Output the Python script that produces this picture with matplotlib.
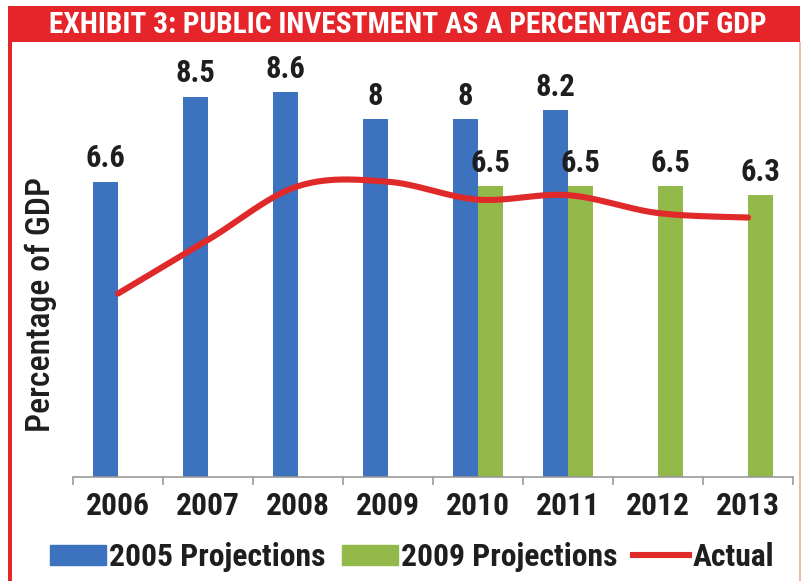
import os
import numpy as np
import matplotlib
matplotlib.use('Agg')
import matplotlib.pyplot as plt
from matplotlib import font_manager as fm
from matplotlib.patches import Rectangle
from matplotlib.lines import Line2D

years = ['2006', '2007', '2008', '2009', '2010', '2011', '2012', '2013']
proj_2005 = [6.6, 8.5, 8.6, 8.0, 8.0, 8.2, np.nan, np.nan]
proj_2009 = [np.nan, np.nan, np.nan, np.nan, 6.5, 6.5, 6.5, 6.3]
actual = [4.1, 5.3, 6.5, 6.6, 6.2, 6.3, 5.9, 5.8]
series_names = ['2005 Projections', '2009 Projections', 'Actual']

BLUE = '#3d72bf'
GREEN = '#94b94b'
RED = '#e02a2a'
TXT = '#1e1e1e'


def find_condensed(style):
    found = {}
    for f in fm.fontManager.ttflist:
        b = os.path.basename(f.fname).lower()
        if not ('condensed' in b or 'narrow' in b):
            continue
        if any(k in b for k in ('italic', 'oblique', 'semi', 'extra', 'ultra', 'light', 'thin', 'black')):
            continue
        if style == 'bold' and 'bold' in b:
            found[b] = f.fname
        if style == 'medium' and 'medium' in b:
            found[b] = f.fname
        if style == 'regular' and 'bold' not in b and 'medium' not in b:
            found[b] = f.fname
    for key in ('robotocondensed', 'roboto_condensed', 'liberationsansnarrow', 'notosans',
                'opensans', 'dejavusanscondensed', ''):
        for b, p in sorted(found.items()):
            if key in b:
                return p
    return None


path_bold = find_condensed('bold')
path_mid = find_condensed('medium') or find_condensed('regular') or path_bold


def fp(size, p=None):
    p = p or path_bold
    if p:
        return fm.FontProperties(fname=p, size=size)
    return fm.FontProperties(family='DejaVu Sans', weight='bold', stretch='condensed', size=size)


def smooth(x, y, n=30):
    # excel-like smoothed line (bezier through the points)
    x = np.asarray(x, float)
    y = np.asarray(y, float)
    px = np.concatenate([[x[0]], x, [x[-1]]])
    py = np.concatenate([[y[0]], y, [y[-1]]])
    xs, ys = [], []
    t = np.linspace(0, 1, n)
    for i in range(1, len(px) - 2):
        p0, p1, p2, p3 = (np.array([px[j], py[j]]) for j in (i - 1, i, i + 1, i + 2))
        c1 = p1 + (p2 - p0) / 6
        c2 = p2 - (p3 - p1) / 6
        pts = ((1 - t) ** 3)[:, None] * p1 + (3 * (1 - t) ** 2 * t)[:, None] * c1 \
            + (3 * (1 - t) * t ** 2)[:, None] * c2 + (t ** 3)[:, None] * p2
        xs.extend(pts[:, 0])
        ys.extend(pts[:, 1])
    return xs, ys


fig = plt.figure(figsize=(8.07, 5.81), dpi=100)
W, H = 807, 581
r = fig.canvas.get_renderer()


def fit(txt, target, dim='w'):
    bb = txt.get_window_extent(r)
    cur = bb.width if dim == 'w' else bb.height
    txt.set_fontsize(txt.get_fontsize() * target / cur)
    return txt.get_fontsize()


# red banner and frame
fig.patches.append(Rectangle((8 / W, 1 - 42 / H), 792 / W, 36 / H, transform=fig.transFigure,
                             facecolor='#e5252a', edgecolor='none', zorder=0))
fig.patches.append(Rectangle((8 / W, 0), 4 / W, 1 - 42 / H, transform=fig.transFigure,
                             facecolor='#e5252a', edgecolor='none', zorder=0))
fig.patches.append(Rectangle((799 / W, 0), 1.5 / W, 1 - 42 / H, transform=fig.transFigure,
                             facecolor='#f3b9a8', edgecolor='none', zorder=0))

title = fig.text(408 / W, 1 - 25 / H, 'EXHIBIT 3: PUBLIC INVESTMENT AS A PERCENTAGE OF GDP',
                 color='white', ha='center', va='center', fontproperties=fp(24))
fit(title, 719)
if title.get_window_extent(r).height > 30:
    fit(title, 30, 'h')

ax = fig.add_axes([73 / W, 104 / H, 720 / W, 425 / H])
x = np.arange(len(years))
w = 0.28

ax.bar(x - w / 2, proj_2005, w, color=BLUE, zorder=2)
ax.bar(x + w / 2, proj_2009, w, color=GREEN, zorder=2)
sx, sy = smooth(x, actual)
ax.plot(sx, sy, color=RED, lw=4.4, solid_capstyle='round', zorder=3)

probe = fig.text(0, 0, '8.5', fontproperties=fp(17))
vfs = fit(probe, 40)
probe.remove()
for xi, v in zip(x, proj_2005):
    if not np.isnan(v):
        ax.annotate('{:g}'.format(v), (xi - w / 2, v), xytext=(0, 6), textcoords='offset points',
                    ha='center', va='bottom', fontproperties=fp(vfs), color=TXT)
for xi, v in zip(x, proj_2009):
    if not np.isnan(v):
        ax.annotate('{:g}'.format(v), (xi + w / 2, v), xytext=(0, 6), textcoords='offset points',
                    ha='center', va='bottom', fontproperties=fp(vfs), color=TXT)

ax.set_xlim(-0.5, len(years) - 0.5)
ax.set_ylim(0, 9.5)
ax.set_yticks([])
ax.set_xticks(x)
probe = fig.text(0, 0, '2006', fontproperties=fp(21))
tfs = fit(probe, 64)
probe.remove()
ax.set_xticklabels(years, fontproperties=fp(tfs), color=TXT)
ax.tick_params(axis='x', which='major', length=0, pad=10)
ax.set_xticks(np.arange(-0.5, len(years)), minor=True)
ax.tick_params(axis='x', which='minor', length=6, color='#999999', width=1.2)
for s in ['top', 'right', 'left']:
    ax.spines[s].set_visible(False)
ax.spines['bottom'].set_color('#999999')
ax.spines['bottom'].set_linewidth(1.2)

ylab = fig.text(41 / W, 1 - 305 / H, 'Percentage of GDP', rotation=90, ha='center', va='center',
                fontproperties=fp(19, path_mid), color=TXT)
fit(ylab, 255, 'h')

probe = fig.text(0, 0, series_names[0], fontproperties=fp(19))
lfs = fit(probe, 216)
probe.remove()
px_per = lfs * 100 / 72
handles = [Rectangle((0, 0), 1, 1, color=BLUE), Rectangle((0, 0), 1, 1, color=GREEN),
           Line2D([], [], color=RED, lw=4.4)]
leg = fig.legend(handles, series_names, loc='center', prop=fp(lfs),
                 bbox_to_anchor=(412 / W, 24 / H), ncol=3, frameon=False,
                 handlelength=56 / px_per, handleheight=0.62, handletextpad=3 / px_per,
                 columnspacing=16 / px_per, borderpad=0, borderaxespad=0)
for t in leg.get_texts():
    t.set_color(TXT)

fig.savefig('out.png', dpi=100)
